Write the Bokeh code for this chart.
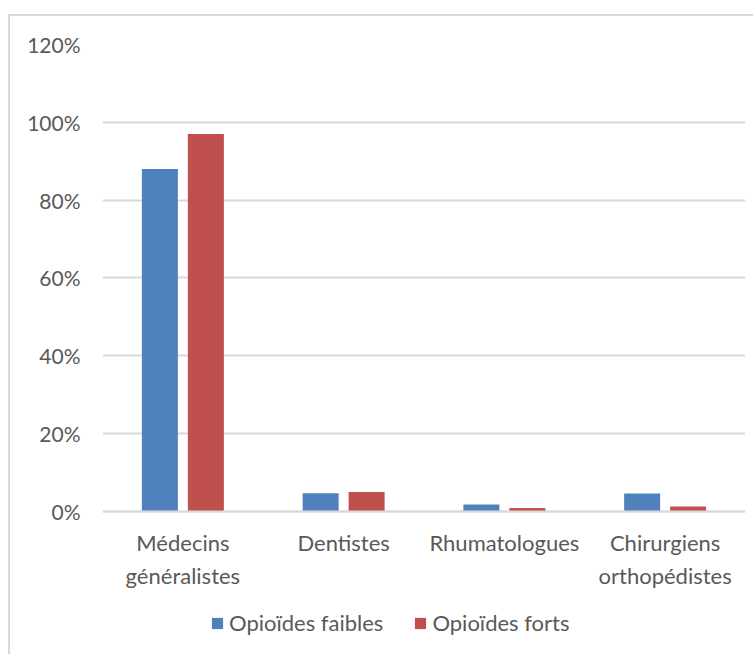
from bokeh.plotting import figure
from bokeh.models import ColumnDataSource, FactorRange, Range1d, NumeralTickFormatter, FixedTicker, Legend, LegendItem
from bokeh.transform import dodge
from bokeh.embed import file_html
from bokeh.resources import INLINE

categories = ["Médecins\ngénéralistes", "Dentistes", "Rhumatologues", "Chirurgiens\northopédistes"]
opioides_faibles = [0.88, 0.047, 0.018, 0.046]
opioides_forts = [0.97, 0.050, 0.009, 0.013]
y_ticks = [0, 0.2, 0.4, 0.6, 0.8, 1.0, 1.2]
series_names = ["Opioïdes faibles", "Opioïdes forts"]

FONT = "Lato"
TXT = "#595959"
GRID = "#d9d9d9"

source = ColumnDataSource(dict(cat=categories, faibles=opioides_faibles, forts=opioides_forts))

# frame extends below 0% so the category labels and legend sit inside it
p = figure(
    x_range=FactorRange(factors=categories, range_padding=0),
    y_range=Range1d(-0.3675, 1.2),
    frame_width=643, frame_height=610,
    output_backend="svg", toolbar_location=None,
    min_border_left=92, min_border_right=8, min_border_top=28, min_border_bottom=0,
)
p.styles = {"border-top": "2px solid #d9d9d9", "border-left": "2px solid #d9d9d9",
            "margin-top": "14px", "margin-left": "8px"}

r1 = p.vbar(x=dodge("cat", -0.143, range=p.x_range), top="faibles", width=0.224, source=source,
            fill_color="#4F81BD", line_color=None)
r2 = p.vbar(x=dodge("cat", 0.143, range=p.x_range), top="forts", width=0.224, source=source,
            fill_color="#C0504D", line_color=None)

p.outline_line_color = None
p.xgrid.grid_line_color = None
p.ygrid.grid_line_color = GRID
p.ygrid.grid_line_width = 2

p.yaxis.ticker = FixedTicker(ticks=y_ticks)
p.yaxis.formatter = NumeralTickFormatter(format="0%")
p.yaxis.axis_line_color = None
p.yaxis.major_tick_line_color = None
p.yaxis.minor_tick_line_color = None
p.yaxis.major_label_standoff = 16
p.yaxis.major_label_text_font = FONT
p.yaxis.major_label_text_font_size = "21px"
p.yaxis.major_label_text_color = TXT

p.xaxis.fixed_location = 0
p.xaxis.axis_line_color = GRID
p.xaxis.axis_line_width = 2
p.xaxis.major_tick_line_color = None
p.xaxis.minor_tick_line_color = None
p.xaxis.major_label_standoff = 12
p.xaxis.major_label_text_font = FONT
p.xaxis.major_label_text_font_size = "22px"
p.xaxis.major_label_text_color = TXT
p.xaxis.major_label_text_line_height = 1.2

legend = Legend(items=[LegendItem(label=series_names[0], renderers=[r1]),
                       LegendItem(label=series_names[1], renderers=[r2])],
                orientation="horizontal", location=(108, 18))
legend.border_line_color = None
legend.background_fill_alpha = 0
legend.glyph_width = 14
legend.glyph_height = 14
legend.label_standoff = 5
legend.spacing = 30
legend.label_text_font = FONT
legend.label_text_font_size = "22px"
legend.label_text_color = TXT
legend.margin = 0
legend.padding = 2
p.add_layout(legend, "center")

open("out.html", "w").write(file_html(p, INLINE))
